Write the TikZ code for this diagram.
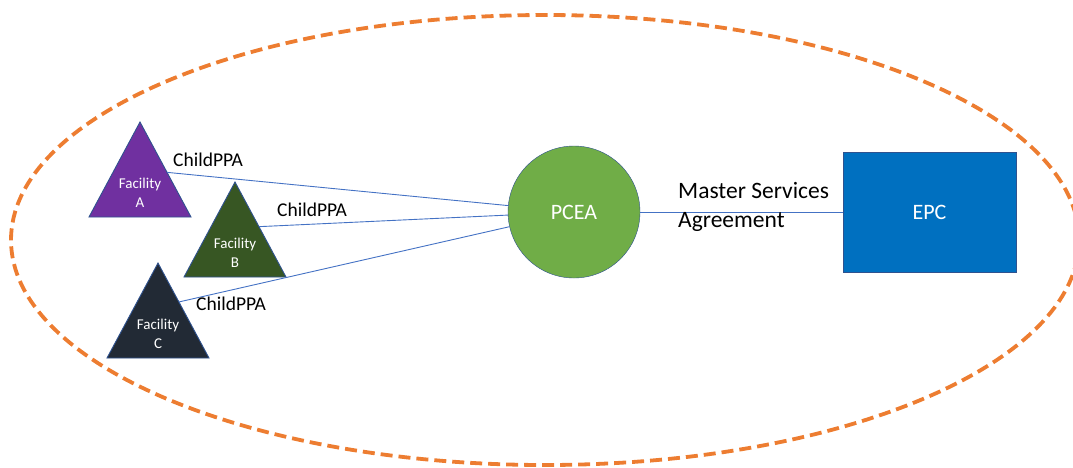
\documentclass[tikz,border=0pt]{standalone}
\usepackage{fontspec}
\setmainfont{Carlito}
\usetikzlibrary{calc}
\definecolor{facA}{HTML}{7030A0}
\definecolor{facB}{HTML}{375623}
\definecolor{facC}{HTML}{222A35}
\definecolor{pceagreen}{HTML}{70AD47}
\definecolor{epcblue}{HTML}{0070C0}
\definecolor{edgeblue}{HTML}{2F528F}
\definecolor{linkblue}{HTML}{4472C4}
\definecolor{scopeorange}{HTML}{ED7D31}
\tikzset{facility/.style={draw=edgeblue,line width=0.9pt}}
\tikzset{factext/.style={text=white,align=center,font=\fontsize{15}{19}\selectfont}}
\tikzset{link/.style={draw=linkblue,line width=0.9pt}}
\tikzset{ppalabel/.style={anchor=base west,inner sep=0pt,font=\fontsize{19.5}{22}\selectfont}}
\tikzset{hub/.style={draw=edgeblue,fill=pceagreen,circle,minimum size=132pt,inner sep=0pt,text=white,font=\fontsize{22}{26}\selectfont}}
\tikzset{party/.style={draw=edgeblue,fill=epcblue,minimum width=173pt,minimum height=120pt,text=white,font=\fontsize{22}{26}\selectfont}}
\tikzset{boundary/.style={draw=scopeorange,line width=3.8pt,dash pattern=on 12pt off 6pt}}

\begin{document}
\begin{tikzpicture}[x=1pt,y=-1pt]
  \useasboundingbox (0,0) rectangle (1073,467);
  \begin{scope}
    \clip (0,0) rectangle (1073,467);
    \draw[boundary] (545,240) ellipse [x radius=534, y radius=225];
  \end{scope}

  % the three facilities
  \foreach \name/\x/\y/\col/\t in {A/140/122/facA/0.53,B/235/182/facB/0.47,C/158/263/facC/0.41}{
    \draw[facility,fill=\col] (\x,\y) coordinate (apex\name) -- (\x+51,\y+95) coordinate (corner\name)
      -- (\x-51,\y+95) -- cycle;
    \node[factext] (fac\name) at (\x,\y+71) {Facility\\\name};
    \coordinate (out\name) at ($(apex\name)!\t!(corner\name)$);
  }

  \node[hub] (pcea) at (574,212) {PCEA};
  \node[party] (epc) at (929.5,212) {EPC};

  \draw[link] (outA) -- (pcea);
  \draw[link] (outB) -- (pcea);
  \draw[link] (outC) -- (pcea);
  \draw[link] (pcea) -- (epc);

  \node[ppalabel] (ppaA) at (173,166.5) {ChildPPA};
  \node[ppalabel] (ppaB) at (277,216.5) {ChildPPA};
  \node[ppalabel] (ppaC) at (196,310) {ChildPPA};
  \node[anchor=west,align=left,inner sep=0pt,font=\fontsize{23.5}{29}\selectfont] (msa) at (678,207)
    {Master Services\\Agreement};
\end{tikzpicture}
\end{document}
